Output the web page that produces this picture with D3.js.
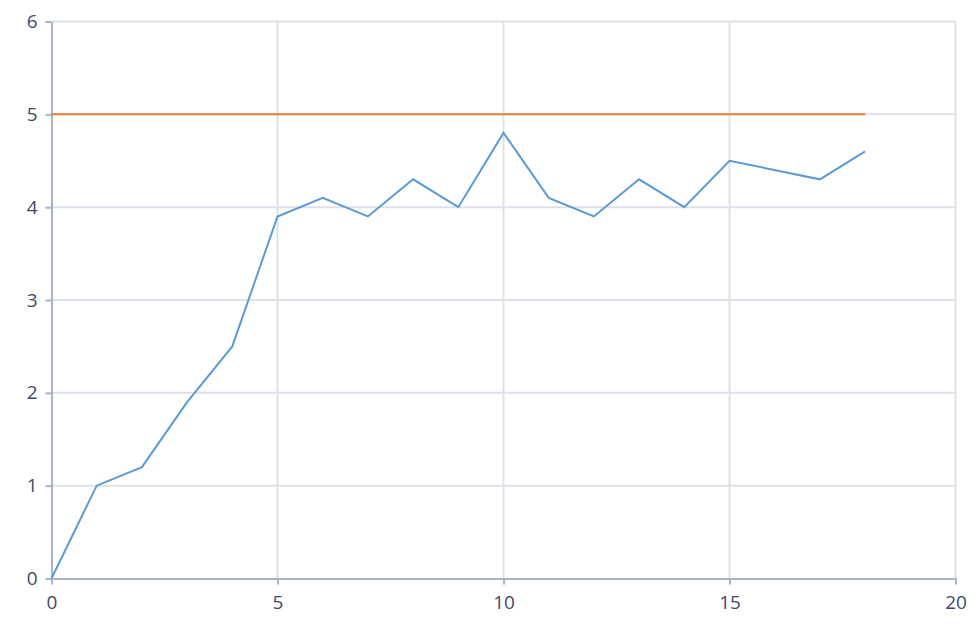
<!DOCTYPE html>
<html><head><meta charset="utf-8">
<script src="https://cdn.jsdelivr.net/npm/d3@7"></script>
<style>body{margin:0;background:#fff;} text{font-family:"Open Sans","Noto Sans",sans-serif;}</style>
</head><body>
<svg id="c" width="977" height="632"></svg>
<script>
const xValues = [0,1,2,3,4,5,6,7,8,9,10,11,12,13,14,15,17,18];
const yValues = [0,1.0,1.2,1.9,2.5,3.9,4.1,3.9,4.3,4.0,4.8,4.1,3.9,4.3,4.0,4.5,4.3,4.6];
const limitX = [0,18];
const limitY = [5,5];
const xTicks = [0,5,10,15,20];
const yTicks = [0,1,2,3,4,5,6];

const svg = d3.select("#c");
const m = {l:51.5, r:955.5, t:21.5, b:578.5};
const x = d3.scaleLinear().domain([0,20]).range([m.l,m.r]);
const y = d3.scaleLinear().domain([0,6]).range([m.b,m.t]);

// grid
svg.append("g").selectAll("line").data(yTicks.filter(d=>d>0)).join("line")
  .attr("x1",m.l).attr("x2",m.r).attr("y1",d=>y(d)).attr("y2",d=>y(d))
  .attr("stroke","#dde1e9").attr("stroke-width",2);
svg.append("g").selectAll("line").data(xTicks.filter(d=>d>0)).join("line")
  .attr("y1",m.t).attr("y2",m.b).attr("x1",d=>x(d)).attr("x2",d=>x(d))
  .attr("stroke","#dde1e9").attr("stroke-width",2);

// axes
const ax = svg.append("g").attr("transform",`translate(0,${m.b})`)
  .call(d3.axisBottom(x).tickValues(xTicks).tickFormat(d3.format("d")).tickSize(6).tickPadding(8).tickSizeOuter(0));
const ay = svg.append("g").attr("transform",`translate(${m.l},0)`)
  .call(d3.axisLeft(y).tickValues(yTicks).tickFormat(d3.format("d")).tickSize(6).tickPadding(8).tickSizeOuter(0));
[ax,ay].forEach(a=>{
  a.select(".domain").attr("stroke","#a8b3c7").attr("stroke-width",2);
  a.selectAll(".tick line").attr("stroke","#a8b3c7").attr("stroke-width",2);
  a.selectAll(".tick text").attr("fill","#3d4b66").attr("font-size",19)
   .attr("font-family","'Open Sans','Noto Sans',sans-serif");
});
ax.selectAll(".tick text").attr("dy","0.85em");

// lines
const line = d3.line().x(d=>x(d[0])).y(d=>y(d[1]));
svg.append("path").datum(limitX.map((v,i)=>[v,limitY[i]])).attr("d",line)
  .attr("fill","none").attr("stroke","#ed7d31").attr("stroke-width",2);
svg.append("path").datum(xValues.map((v,i)=>[v,yValues[i]])).attr("d",line)
  .attr("fill","none").attr("stroke","#5b9bd5").attr("stroke-width",2);
</script>
</body></html>
